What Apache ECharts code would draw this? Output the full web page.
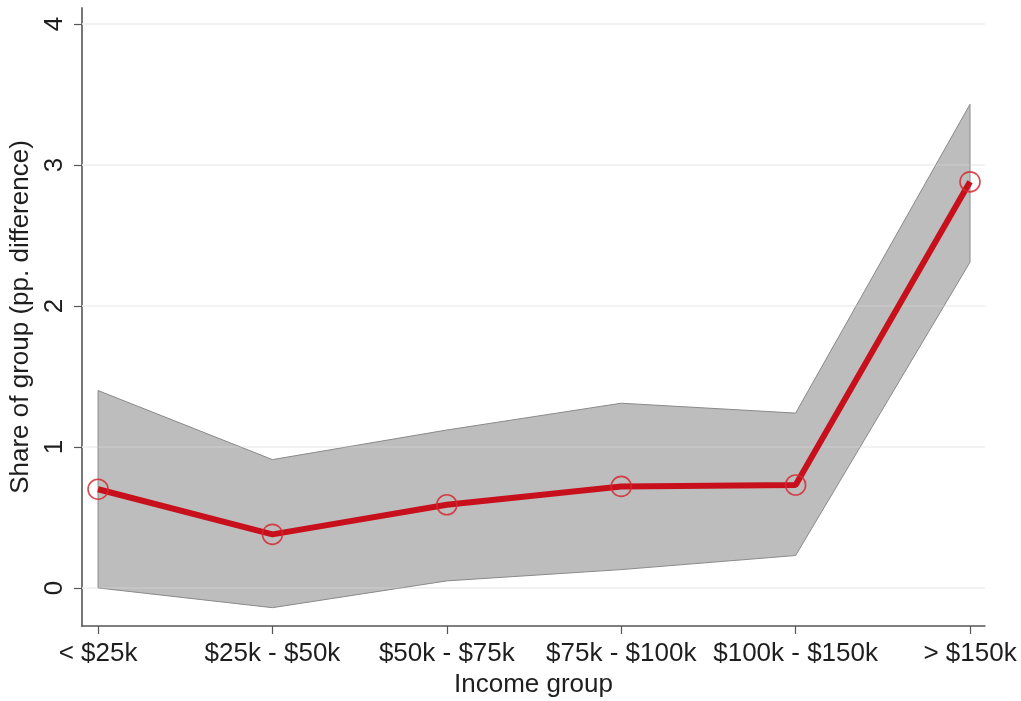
<!DOCTYPE html>
<html>
<head>
<meta charset="utf-8">
<script src="https://cdn.jsdelivr.net/npm/echarts@6/dist/echarts.min.js"></script>
<style>
  html, body { margin: 0; padding: 0; background: #ffffff; }
  #chart { width: 1021px; height: 701px; }
</style>
</head>
<body>
<div id="chart"></div>
<script>
// Income groups along the horizontal axis
const categories = ['< $25k', '$25k - $50k', '$50k - $75k', '$75k - $100k', '$100k - $150k', '> $150k'];
// Point estimates (pp. difference) and the confidence band around them
const estimate = [0.70, 0.38, 0.59, 0.72, 0.73, 2.88];
const upper    = [1.40, 0.91, 1.12, 1.31, 1.24, 3.43];
const lower    = [0.00, -0.14, 0.05, 0.13, 0.23, 2.31];
// Vertical axis ticks
const yTicks = [0, 1, 2, 3, 4];

const FONT = "'Liberation Sans', Arial, Helvetica, sans-serif";
const TEXT = '#1e1e1e';
const FS = 26;
const xIdx = categories.map((_, i) => i);

const chart = echarts.init(document.getElementById('chart'), null, { renderer: 'canvas' });

chart.setOption({
  backgroundColor: '#ffffff',
  animation: false,
  grid: { left: 82, right: 36, top: 8, bottom: 75, containLabel: false, outerBoundsMode: 'none' },
  xAxis: {
    type: 'value',
    min: -0.092,
    max: 5.086,
    name: 'Income group',
    nameLocation: 'middle',
    nameGap: 46,
    nameTextStyle: { fontFamily: FONT, fontSize: FS, color: TEXT },
    axisLine: { show: true, onZero: false, lineStyle: { color: '#555555', width: 1.5 } },
    axisTick: { show: true, length: 8, customValues: xIdx, lineStyle: { color: '#555555', width: 1.2 } },
    axisLabel: {
      customValues: xIdx,
      formatter: v => categories[Math.round(v)],
      fontFamily: FONT, fontSize: FS, color: TEXT, margin: 15,
      hideOverlap: false, showMinLabel: true, showMaxLabel: true
    },
    splitLine: { show: false }
  },
  yAxis: {
    type: 'value',
    min: -0.27,
    max: 4.113,
    name: 'Share of group (pp. difference)',
    nameLocation: 'middle',
    nameGap: 47,
    nameTextStyle: { fontFamily: FONT, fontSize: FS, color: TEXT },
    axisLine: { show: true, onZero: false, lineStyle: { color: '#777777', width: 2 } },
    axisTick: { show: true, length: 8, customValues: yTicks, lineStyle: { color: '#555555', width: 1.2 } },
    axisLabel: {
      customValues: yTicks,
      rotate: 90,
      fontFamily: FONT, fontSize: FS, color: TEXT, margin: 14,
      showMinLabel: true, showMaxLabel: true
    },
    splitLine: { show: false }
  },
  series: [
    {
      // light horizontal gridlines at each y tick, beneath the band
      type: 'line',
      data: [],
      silent: true,
      z: 1,
      markLine: {
        silent: true,
        z: 1,
        symbol: 'none',
        label: { show: false },
        lineStyle: { color: '#ebebeb', width: 1.5, type: 'solid' },
        data: yTicks.map(v => ({ yAxis: v }))
      }
    },
    {
      // confidence band polygon
      type: 'custom',
      data: [[0, 0]],
      silent: true,
      z: 2,
      renderItem: function (params, api) {
        const pts = [];
        for (let i = 0; i < upper.length; i++) pts.push(api.coord([i, upper[i]]));
        for (let i = lower.length - 1; i >= 0; i--) pts.push(api.coord([i, lower[i]]));
        return {
          type: 'polygon',
          shape: { points: pts },
          style: { fill: '#bdbdbd', stroke: '#8a8a8a', lineWidth: 1 }
        };
      }
    },
    {
      // faint trace of the gridlines showing through the band
      type: 'line',
      data: [],
      silent: true,
      z: 3,
      markLine: {
        silent: true,
        z: 3,
        symbol: 'none',
        label: { show: false },
        lineStyle: { color: 'rgba(255,255,255,0.18)', width: 1.5, type: 'solid' },
        data: yTicks.map(v => ({ yAxis: v }))
      }
    },
    {
      type: 'line',
      data: estimate.map((v, i) => [i, v]),
      z: 5,
      lineStyle: { color: '#c8101c', width: 6 },
      symbol: 'circle',
      symbolSize: 20,
      itemStyle: { color: 'rgba(0,0,0,0)', borderColor: 'rgba(214,40,50,0.85)', borderWidth: 1.6 },
      emphasis: { disabled: true }
    }
  ]
});
</script>
</body>
</html>
